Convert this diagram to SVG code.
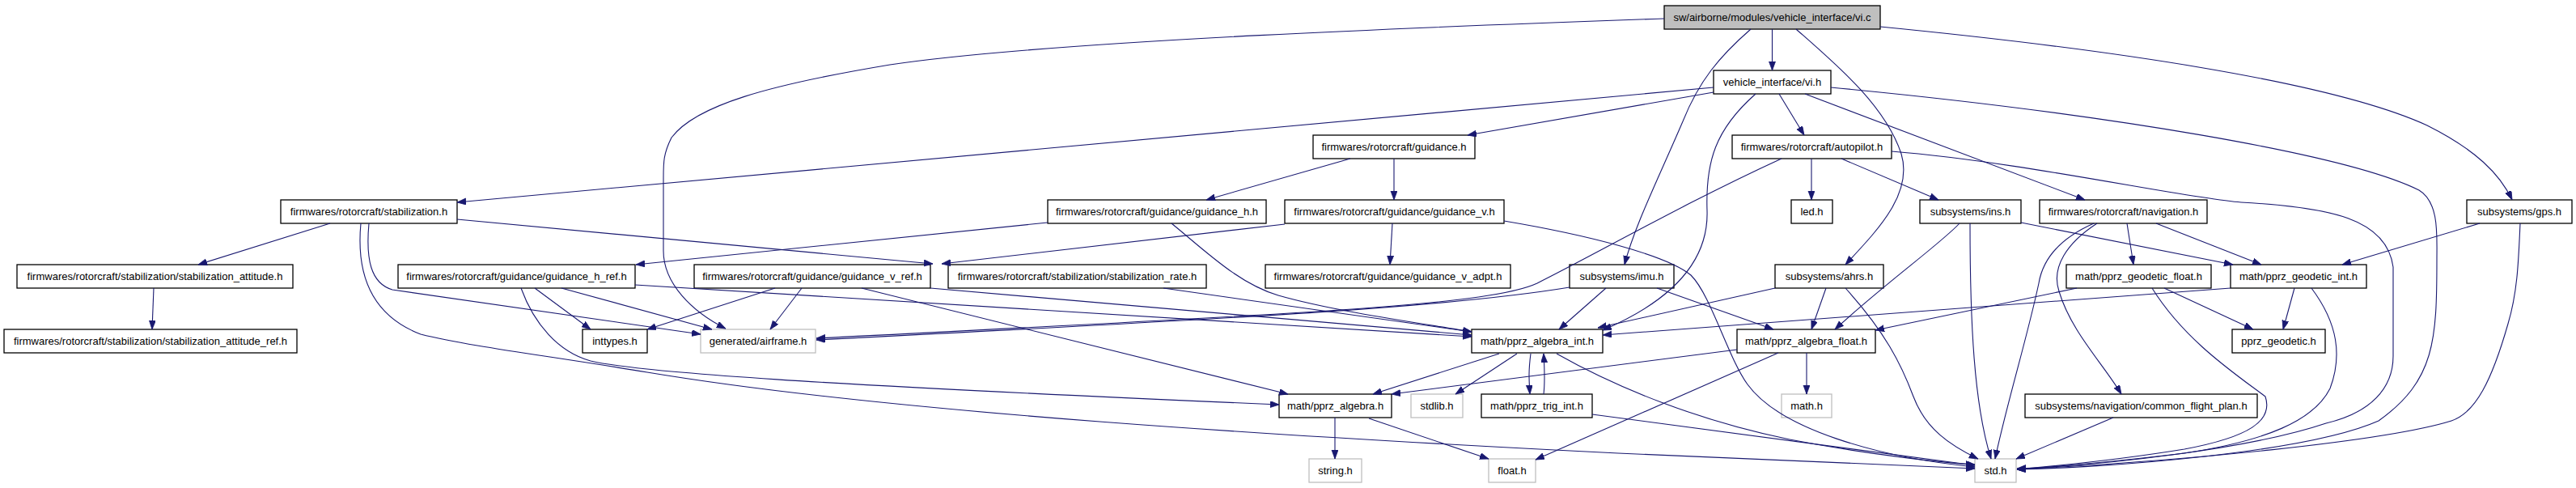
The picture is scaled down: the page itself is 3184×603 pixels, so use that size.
<svg xmlns="http://www.w3.org/2000/svg" width="3184" height="603" viewBox="0 0 3184 603">
<style>
.n rect{fill:#fff;stroke:#000;stroke-width:1.3}
.g rect{fill:#fff;stroke:#bfbfbf;stroke-width:1.3}
.root rect{fill:#bfbfbf;stroke:#000;stroke-width:1.3}
text{font-family:"Liberation Sans",Arial,sans-serif;font-size:13px;fill:#000;text-anchor:middle}
#edges path{fill:none;stroke:#191970;stroke-width:1.1;marker-end:url(#a)}
</style>
<defs>
<marker id="a" markerUnits="userSpaceOnUse" markerWidth="12" markerHeight="10" refX="11" refY="4" orient="auto">
<path d="M0,0 L11,4 L0,8 z" fill="#191970" stroke="#191970" stroke-width="0.8"/>
</marker>
</defs>
<rect width="3184" height="603" fill="#fff"/>

<g id="vi_c" class="root"><rect x="2057" y="7" width="267" height="29"/><text x="2190.5" y="26">sw/airborne/modules/vehicle_interface/vi.c</text></g>
<g id="vi_h" class="n"><rect x="2118" y="87" width="145" height="29"/><text x="2190.5" y="106">vehicle_interface/vi.h</text></g>
<g id="guidance_h_main" class="n"><rect x="1623" y="167" width="200" height="29"/><text x="1723" y="186">firmwares/rotorcraft/guidance.h</text></g>
<g id="autopilot" class="n"><rect x="2141" y="167" width="197" height="29"/><text x="2239.5" y="186">firmwares/rotorcraft/autopilot.h</text></g>
<g id="stabilization" class="n"><rect x="347" y="247" width="218" height="29"/><text x="456" y="266">firmwares/rotorcraft/stabilization.h</text></g>
<g id="guidance_h" class="n"><rect x="1295" y="247" width="270" height="29"/><text x="1430" y="266">firmwares/rotorcraft/guidance/guidance_h.h</text></g>
<g id="guidance_v" class="n"><rect x="1588" y="247" width="271" height="29"/><text x="1723.5" y="266">firmwares/rotorcraft/guidance/guidance_v.h</text></g>
<g id="led" class="n"><rect x="2214" y="247" width="51" height="29"/><text x="2239.5" y="266">led.h</text></g>
<g id="ins" class="n"><rect x="2373" y="247" width="125" height="29"/><text x="2435.5" y="266">subsystems/ins.h</text></g>
<g id="navigation" class="n"><rect x="2521" y="247" width="207" height="29"/><text x="2624.5" y="266">firmwares/rotorcraft/navigation.h</text></g>
<g id="gps" class="n"><rect x="3049" y="247" width="130" height="29"/><text x="3114" y="266">subsystems/gps.h</text></g>
<g id="stab_att" class="n"><rect x="21" y="327" width="341" height="29"/><text x="191.5" y="346">firmwares/rotorcraft/stabilization/stabilization_attitude.h</text></g>
<g id="guid_h_ref" class="n"><rect x="492" y="327" width="293" height="29"/><text x="638.5" y="346">firmwares/rotorcraft/guidance/guidance_h_ref.h</text></g>
<g id="guid_v_ref" class="n"><rect x="858" y="327" width="292" height="29"/><text x="1004" y="346">firmwares/rotorcraft/guidance/guidance_v_ref.h</text></g>
<g id="stab_rate" class="n"><rect x="1172" y="327" width="319" height="29"/><text x="1331.5" y="346">firmwares/rotorcraft/stabilization/stabilization_rate.h</text></g>
<g id="guid_v_adpt" class="n"><rect x="1564" y="327" width="303" height="29"/><text x="1715.5" y="346">firmwares/rotorcraft/guidance/guidance_v_adpt.h</text></g>
<g id="imu" class="n"><rect x="1940" y="327" width="129" height="29"/><text x="2004.5" y="346">subsystems/imu.h</text></g>
<g id="ahrs" class="n"><rect x="2194" y="327" width="134" height="29"/><text x="2261" y="346">subsystems/ahrs.h</text></g>
<g id="geo_float" class="n"><rect x="2554" y="327" width="179" height="29"/><text x="2643.5" y="346">math/pprz_geodetic_float.h</text></g>
<g id="geo_int" class="n"><rect x="2757" y="327" width="168" height="29"/><text x="2841" y="346">math/pprz_geodetic_int.h</text></g>
<g id="stab_att_ref" class="n"><rect x="5" y="407" width="362" height="29"/><text x="186" y="426">firmwares/rotorcraft/stabilization/stabilization_attitude_ref.h</text></g>
<g id="inttypes" class="n"><rect x="720" y="407" width="80" height="29"/><text x="760" y="426">inttypes.h</text></g>
<g id="airframe" class="g"><rect x="866" y="407" width="142" height="29"/><text x="937" y="426">generated/airframe.h</text></g>
<g id="alg_int" class="n"><rect x="1819" y="407" width="162" height="29"/><text x="1900" y="426">math/pprz_algebra_int.h</text></g>
<g id="alg_float" class="n"><rect x="2147" y="407" width="171" height="29"/><text x="2232.5" y="426">math/pprz_algebra_float.h</text></g>
<g id="pprz_geodetic" class="n"><rect x="2759" y="407" width="115" height="29"/><text x="2816.5" y="426">pprz_geodetic.h</text></g>
<g id="pprz_algebra" class="n"><rect x="1581" y="487" width="139" height="29"/><text x="1650.5" y="506">math/pprz_algebra.h</text></g>
<g id="stdlib" class="g"><rect x="1744" y="487" width="64" height="29"/><text x="1776" y="506">stdlib.h</text></g>
<g id="trig_int" class="n"><rect x="1831" y="487" width="137" height="29"/><text x="1899.5" y="506">math/pprz_trig_int.h</text></g>
<g id="math" class="g"><rect x="2202" y="487" width="62" height="29"/><text x="2233" y="506">math.h</text></g>
<g id="cfp" class="n"><rect x="2503" y="487" width="287" height="29"/><text x="2646.5" y="506">subsystems/navigation/common_flight_plan.h</text></g>
<g id="string" class="g"><rect x="1618" y="567" width="65" height="29"/><text x="1650.5" y="586">string.h</text></g>
<g id="float" class="g"><rect x="1840" y="567" width="58" height="29"/><text x="1869" y="586">float.h</text></g>
<g id="std" class="g"><rect x="2441" y="567" width="51" height="29"/><text x="2466.5" y="586">std.h</text></g>

<g id="edges">
<path d="M2057,23 C1800,32 1300,50 1100,80 C950,105 860,130 830,170 C820,190 820,200 820,220 L820,310 C820,350 855,385 897,406"/>
<path d="M2190.5,36 L2190.5,87"/>
<path d="M2164,36 C2125,70 2100,100 2080,150 C2050,220 2020,280 2008,327"/>
<path d="M2220,36 C2270,80 2330,130 2350,190 C2365,240 2320,285 2281,327"/>
<path d="M2324,33 C2600,60 2880,100 3000,155 C3060,185 3090,215 3105,247"/>
<path d="M2118,108 L565,250"/>
<path d="M2118,114 L1814,167"/>
<path d="M2170,116 C2120,160 2108,200 2110,260 C2112,320 2070,370 1981,408"/>
<path d="M2199,116 L2230,167"/>
<path d="M2231,116 L2577,247"/>
<path d="M2263,108 C2600,140 2900,190 2990,235 C3015,250 3012,290 3012,320 C3012,420 3010,470 2940,520 C2850,560 2600,578 2493,580"/>
<path d="M1669,196 L1491,247"/>
<path d="M1723,196 L1723,247"/>
<path d="M2239,196 L2239,247"/>
<path d="M2276,196 L2396,247"/>
<path d="M2202,196 C2080,252 1980,310 1900,350 C1840,378 1600,388 1009,418"/>
<path d="M2338,187 C2500,200 2700,245 2770,250 C2880,256 2950,270 2958,330 L2958,440 C2958,480 2930,510 2875,523 C2780,555 2600,575 2493,579"/>
<path d="M3065,276 L2895,327"/>
<path d="M3115,276 C3113,320 3112,360 3100,400 C3080,470 3060,510 3030,520 C2950,545 2700,570 2493,580"/>
<path d="M2435,276 C2435,400 2440,500 2461,567"/>
<path d="M2422,276 C2400,300 2330,350 2268,407"/>
<path d="M2498,275 L2760,327"/>
<path d="M2665,276 L2795,327"/>
<path d="M2629,276 L2637,327"/>
<path d="M2592,276 C2555,300 2535,330 2545,360 C2560,410 2600,450 2622,487"/>
<path d="M2588,276 C2545,295 2525,320 2520,350 C2505,420 2480,500 2466,567"/>
<path d="M1940,355 C1800,378 1600,390 1009,420"/>
<path d="M1985,356 L1927,407"/>
<path d="M2048,356 L2192,407"/>
<path d="M2194,356 L1975,405"/>
<path d="M2257,356 L2239,407"/>
<path d="M2281,356 C2330,410 2350,450 2365,490 C2380,530 2410,550 2445,567"/>
<path d="M2233,436 L2233,487"/>
<path d="M2198,436 L1898,568"/>
<path d="M2147,432 L1720,487"/>
<path d="M1853,437 L1697,487"/>
<path d="M1875,437 L1799,487"/>
<path d="M1892,437 C1889,460 1890,470 1891,487"/>
<path d="M1908,487 C1910,470 1909,455 1908,437"/>
<path d="M1924,437 C2000,480 2100,520 2212,543 C2300,560 2400,572 2441,574"/>
<path d="M1968,512 L2441,575"/>
<path d="M1650,516 L1650,567"/>
<path d="M1692,517 L1840,567"/>
<path d="M1721,276 L1718,327"/>
<path d="M1588,277 L1164,326"/>
<path d="M1859,273 C1960,290 2060,315 2090,340 C2115,365 2135,440 2160,475 C2200,530 2320,565 2441,577"/>
<path d="M1295,275 L786,327"/>
<path d="M1448,276 C1490,310 1530,350 1580,365 C1650,385 1760,400 1819,410"/>
<path d="M408,276 L245,327"/>
<path d="M565,271 L1153,326"/>
<path d="M456,276 C452,320 458,350 485,358 L866,413"/>
<path d="M446,276 C440,340 460,390 520,413 C580,428 680,440 800,460 C1100,510 1600,540 2000,560 C2200,570 2350,576 2441,579"/>
<path d="M661,356 L730,407"/>
<path d="M694,356 L880,407"/>
<path d="M785,352 L1819,416"/>
<path d="M644,356 C660,400 690,435 730,446 C790,460 1000,475 1581,500"/>
<path d="M958,356 L800,407"/>
<path d="M991,356 L952,407"/>
<path d="M1065,356 L1592,487"/>
<path d="M1150,356 L1819,414"/>
<path d="M1438,356 L1819,410"/>
<path d="M190,356 L188,407"/>
<path d="M2612,516 L2492,567"/>
<path d="M2675,356 L2785,407"/>
<path d="M2660,356 C2700,420 2760,460 2800,490 C2810,520 2780,540 2700,555 C2620,568 2550,575 2493,580"/>
<path d="M2567,356 L2318,408"/>
<path d="M2836,356 L2822,407"/>
<path d="M2857,356 C2890,400 2895,440 2880,480 C2860,520 2800,545 2700,560 C2600,572 2540,577 2493,580"/>
<path d="M2757,356 L1981,414"/>
</g>
</svg>
